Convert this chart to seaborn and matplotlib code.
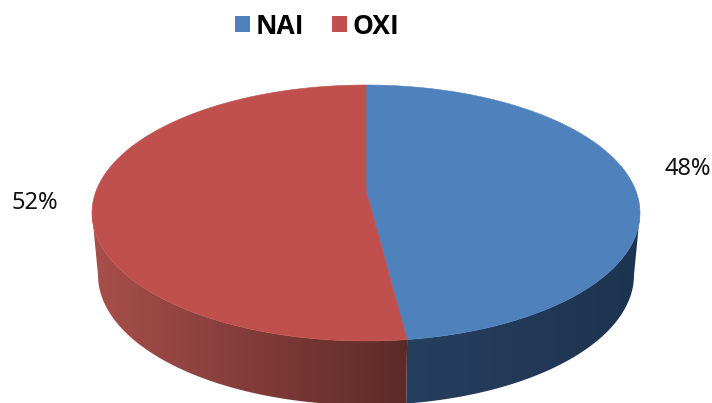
import numpy as np
import matplotlib
matplotlib.use("Agg")
import matplotlib.pyplot as plt
from matplotlib.colors import LinearSegmentedColormap
from matplotlib.patches import Patch, Polygon
import seaborn as sns

categories = ["NAI", "OXI"]
shares = [48, 52]
top_colors = ["#4F81BD", "#C0504D"]
side_left = ["#263F5E", "#A84F4B"]
side_right = ["#1D3450", "#5C2A27"]
label_xy = [(688, 169), (35, 203)]

sns.set_theme(style="white")
plt.rcParams["font.family"] = ["Noto Sans", "DejaVu Sans"]

fig = plt.figure(figsize=(7.12, 4.03), dpi=100)
ax = fig.add_axes([0, 0, 1, 1])
ax.set_xlim(0, 712)
ax.set_ylim(403, 0)
ax.axis("off")

C = 0.18          # perspective strength of the tilted disc
CX = 366.0


def rim(theta, rx, ry, cy):
    """Projected disc rim; theta in degrees clockwise from the top."""
    t = np.radians(theta)
    w = 1 + C * np.cos(t)
    x = CX + rx * np.sqrt(1 - C ** 2) * np.sin(t) / w
    y = cy - ry * (np.cos(t) + C) / w
    return np.column_stack([x, y])


TOP = (274, 128, 213)
BOT = (268, 130, 275)
centre = np.array([[CX, TOP[2] - TOP[1] * C]])
edges = np.cumsum([0] + shares) / sum(shares) * 360
silhouette = np.degrees(np.arccos(-C))
vis_lo, vis_hi = silhouette, 360 - silhouette

# side walls, drawn first
for i in range(len(shares)):
    lo, hi = max(edges[i], vis_lo), min(edges[i + 1], vis_hi)
    if hi <= lo:
        continue
    th = np.linspace(lo, hi, 200)
    pts = np.vstack([rim(th, *TOP), rim(th[::-1], *BOT)])
    x0, x1 = pts[:, 0].min(), pts[:, 0].max()
    y0, y1 = pts[:, 1].min(), pts[:, 1].max()
    # the lighter end faces the left of the picture
    cmap = LinearSegmentedColormap.from_list("s", [side_left[i], side_right[i]])
    im = ax.imshow(np.linspace(0, 1, 256)[None, :], cmap=cmap, aspect="auto",
                   extent=(x0, x1, y1, y0), zorder=1)
    clip = Polygon(pts, closed=True, transform=ax.transData, fc="none", ec="none")
    ax.add_patch(clip)
    im.set_clip_path(clip)
ax.set_xlim(0, 712)
ax.set_ylim(403, 0)

# top face
for i in range(len(shares)):
    th = np.linspace(edges[i], edges[i + 1], 300)
    pts = np.vstack([centre, rim(th, *TOP)])
    ax.add_patch(Polygon(pts, closed=True, fc=top_colors[i], ec=top_colors[i],
                         lw=0.4, zorder=2))

for share, (x, y) in zip(shares, label_xy):
    ax.text(x, y, f"{share}%", ha="center", va="center", fontsize=17,
            color="#111111", zorder=3)

handles = [Patch(fc=c, ec="none") for c in top_colors]
leg = ax.legend(handles, categories, loc="center", bbox_to_anchor=(317 / 712, 1 - 26 / 403),
                ncol=2, frameon=False, handlelength=0.57, handleheight=0.57,
                handletextpad=0.2, columnspacing=1.07, borderpad=0, borderaxespad=0,
                labelcolor="black",
                prop={"family": "Open Sans", "weight": "bold", "size": 19})

fig.savefig("out.png", dpi=100, facecolor="white")
